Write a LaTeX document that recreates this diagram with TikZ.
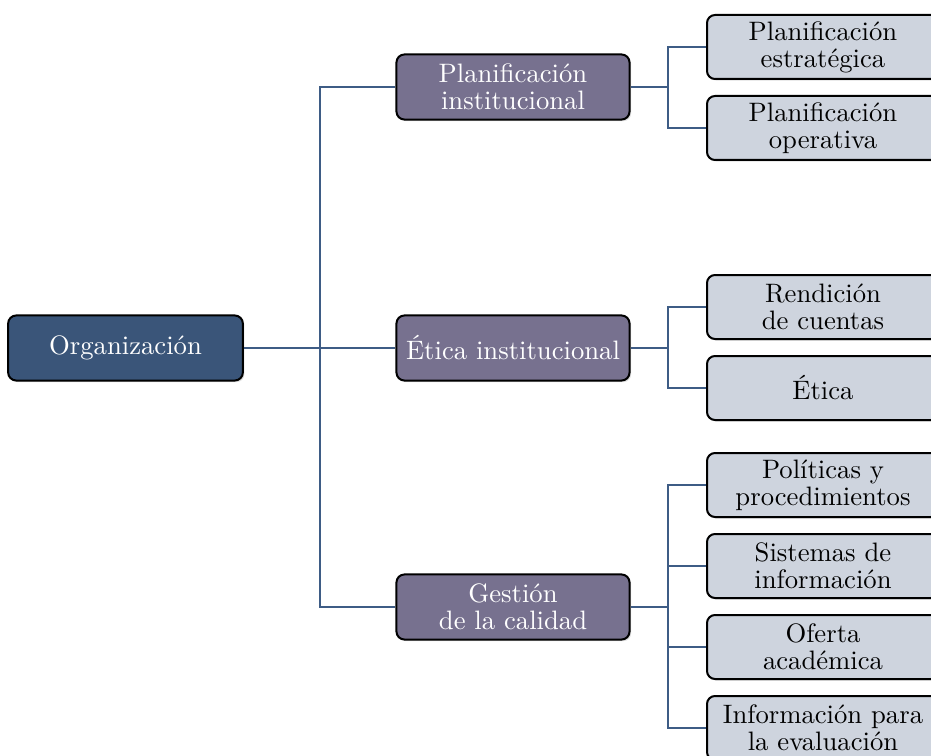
\documentclass[tikz,border=0pt]{standalone}
\usepackage{fontspec}
\usetikzlibrary{shadows}
\definecolor{orgfill}{HTML}{3A5579}
\definecolor{midfill}{HTML}{77718F}
\definecolor{leaffill}{HTML}{CED4DE}
\definecolor{linkcol}{HTML}{3E5C85}
\tikzset{
  box/.style={draw=black, line width=0.75pt, rounded corners=3pt, align=center,
    font=\fontsize{10}{10.2}\selectfont, inner sep=0pt,
    drop shadow={opacity=0.25, shadow xshift=0.6pt, shadow yshift=-0.6pt}},
  orgbox/.style={box, fill=orgfill, text=white, minimum width=88pt, minimum height=24.4pt},
  midbox/.style={box, fill=midfill, text=white, minimum width=87.4pt, minimum height=24.4pt},
  leafbox/.style={box, fill=leaffill, text=black, minimum width=87pt, minimum height=24pt},
  link/.style={draw=linkcol, line width=1pt}
}
\begin{document}
\begin{tikzpicture}[x=0.375pt, y=-0.375pt]
\useasboundingbox (0,0) rectangle (931,756);
\clip (0,0) rectangle (931,756);
\fill[white] (0,0) rectangle (931,756);

\node[orgbox] (org) at (125.5,348) {Organización};

\node[midbox] (pi) at (513,87) {Planificación\\institucional};
\node[midbox] (ei) at (513,348) {Ética institucional};
\node[midbox] (gc) at (513,607) {Gestión\\de la calidad};

\node[leafbox] (pe) at (823,47) {Planificación\\estratégica};
\node[leafbox] (po) at (823,128) {Planificación\\operativa};
\node[leafbox] (rc) at (823,307) {Rendición\\de cuentas};
\node[leafbox] (et) at (823,388) {Ética};
\node[leafbox] (pp) at (823,485) {Políticas y\\procedimientos};
\node[leafbox] (si) at (823,566) {Sistemas de\\información};
\node[leafbox] (oa) at (823,647) {Oferta\\académica};
\node[leafbox] (ie) at (823,728) {Información para\\la evaluación};

\coordinate (t) at (320,348);
\coordinate (b1) at (668,87);
\coordinate (b2) at (668,348);
\coordinate (b3) at (668,607);

\draw[link] (org.east) -- (ei.west);
\draw[link] (pi.west) -| (t) |- (gc.west);
\draw[link] (pi.east) -- (b1);
\draw[link] (pe.west) -| (b1) |- (po.west);
\draw[link] (ei.east) -- (b2);
\draw[link] (rc.west) -| (b2) |- (et.west);
\draw[link] (gc.east) -- (b3);
\draw[link] (pp.west) -| (b3) |- (ie.west);
\draw[link] (si.west) -- (si.west -| b3);
\draw[link] (oa.west) -- (oa.west -| b3);
\end{tikzpicture}
\end{document}
